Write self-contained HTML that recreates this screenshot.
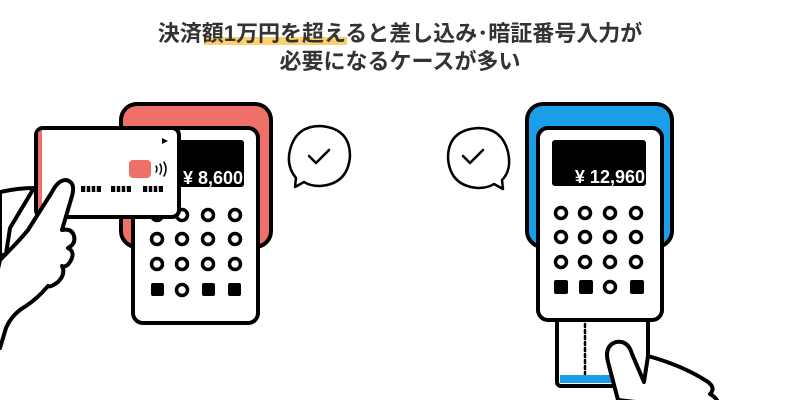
<!DOCTYPE html>
<html><head><meta charset="utf-8"><style>
html,body{margin:0;padding:0;background:#fff;width:800px;height:400px;overflow:hidden}
</style></head><body>
<svg width="800" height="400" viewBox="0 0 800 400" xmlns="http://www.w3.org/2000/svg">
<rect x="204" y="37" width="143" height="8" fill="#fcd06f"/>
<text x="400" y="41" text-anchor="middle" font-family="'Liberation Sans','Noto Sans CJK JP',sans-serif" font-size="22" font-weight="bold" fill="#333">決済額1万円を超えると差し込み･暗証番号入力が</text>
<text x="400" y="69" text-anchor="middle" font-family="'Liberation Sans','Noto Sans CJK JP',sans-serif" font-size="22" font-weight="bold" fill="#333">必要になるケースが多い</text>

<g stroke="#000" stroke-width="4" stroke-linejoin="round" stroke-linecap="round">
<!-- left terminal -->
<rect x="121" y="104" width="150" height="143" rx="16" fill="#ee7068"/>
<rect x="133" y="128" width="125" height="195" rx="10" fill="#fff"/>
<rect x="177" y="140" width="67" height="47" rx="3" fill="#000" stroke="none"/>
<g fill="#fff" stroke-width="3.5">
<circle cx="157" cy="215" r="5.5"/><circle cx="182" cy="215" r="5.5"/><circle cx="208" cy="215" r="5.5"/><circle cx="235" cy="215" r="5.5"/>
<circle cx="157" cy="239" r="5.5"/><circle cx="182" cy="239" r="5.5"/><circle cx="208" cy="239" r="5.5"/><circle cx="235" cy="239" r="5.5"/>
<circle cx="157" cy="264" r="5.5"/><circle cx="182" cy="264" r="5.5"/><circle cx="208" cy="264" r="5.5"/><circle cx="235" cy="264" r="5.5"/>
<circle cx="182" cy="290" r="5.5"/>
</g>
<rect x="151" y="283" width="13" height="13" rx="2" fill="#000" stroke="none"/>
<rect x="202" y="283" width="13" height="13" rx="2" fill="#000" stroke="none"/>
<rect x="228" y="283" width="13" height="13" rx="2" fill="#000" stroke="none"/>
<!-- card -->
<rect x="36" y="128" width="143" height="89" rx="7" fill="#fff"/>
<path d="M38 132 v82 h4 v-84 z" fill="#ee7068" stroke="none"/>
<rect x="129" y="160" width="22" height="18" rx="4" fill="#ee7068" stroke="none"/>
<path d="M162 138 l6 3 l-6 3 z" fill="#000" stroke="none"/>
<g fill="none" stroke-width="1.5"><path d="M156 166 q2 3 0 6"/><path d="M160 164 q3 5 0 10"/><path d="M164 162 q4 7 0 14"/></g>
<g stroke="none" fill="#000">
<rect x="81" y="186" width="20" height="6"/><rect x="111" y="186" width="20" height="6"/><rect x="143" y="186" width="20" height="6"/>
</g>
<g stroke="#fff" stroke-width="1.5"><path d="M86 185v8M91 185v8M96 185v8M116 185v8M121 185v8M126 185v8M148 185v8M153 185v8M158 185v8"/></g>
<!-- hand: index finger behind -->
<path d="M0 192 q18 -4 34 -4 l-24 40 l-4 26 l-6 2 z" fill="#fff"/>
<!-- hand main with thumb -->
<path d="M0 260 q20 -20 28 -30 l24 -38 q6 -12 14 -12 q10 2 6 16 l-10 34 q10 -2 12 6 q2 8 -6 12 q8 4 2 14 q-4 6 -8 4 q4 8 -4 16 q-8 6 -10 4 q-10 12 -22 20 q-14 8 -20 22 l-6 20 l-20 0 z" fill="#fff"/>
<!-- bubble -->
<path d="M296 178 q-10 -12 -6 -28 q6 -24 30 -24 q30 2 30 30 q-2 28 -30 30 q-10 0 -16 -4 l-9 5 z" fill="#fff" stroke-width="2.5"/>
<path d="M309 156 l7 7 l13 -13" fill="none" stroke-width="2.5"/>

<!-- right terminal -->
<rect x="527" y="104" width="145" height="143" rx="16" fill="#1a9ee8"/>
<rect x="557" y="318" width="91" height="68" rx="4" fill="#fff"/>
<path d="M560 375 h85 v8 h-85 z" fill="#1a9ee8" stroke="none"/>
<g stroke-width="2.5"><path d="M585 324 v50" stroke-dasharray="3 3"/></g>
<rect x="538" y="128" width="124" height="192" rx="10" fill="#fff"/>
<rect x="552" y="140" width="94" height="46" rx="3" fill="#000" stroke="none"/>
<g fill="#fff" stroke-width="3.5">
<circle cx="561" cy="213" r="5.5"/><circle cx="585" cy="213" r="5.5"/><circle cx="610" cy="213" r="5.5"/><circle cx="636" cy="213" r="5.5"/>
<circle cx="561" cy="237" r="5.5"/><circle cx="585" cy="237" r="5.5"/><circle cx="610" cy="237" r="5.5"/><circle cx="636" cy="237" r="5.5"/>
<circle cx="561" cy="262" r="5.5"/><circle cx="585" cy="262" r="5.5"/><circle cx="610" cy="262" r="5.5"/><circle cx="636" cy="262" r="5.5"/>
<circle cx="610" cy="287" r="5.5"/>
</g>
<rect x="554" y="280" width="14" height="14" rx="2" fill="#000" stroke="none"/>
<rect x="579" y="280" width="14" height="14" rx="2" fill="#000" stroke="none"/>
<rect x="630" y="280" width="14" height="14" rx="2" fill="#000" stroke="none"/>
<!-- finger/hand -->
<path d="M618 400 l-10 -38 q-4 -16 8 -20 q12 -2 16 12 l12 28 l4 -26 q36 10 60 26 q8 6 2 12 q8 4 10 14 l2 4 z" fill="#fff"/>
<!-- bubble -->
<path d="M502 180 q10 -10 6 -28 q-6 -24 -30 -24 q-30 2 -30 30 q2 28 30 30 q10 0 16 -4 l9 5 z" fill="#fff" stroke-width="2.5"/>
<path d="M463 156 l7 7 l13 -13" fill="none" stroke-width="2.5"/>
</g>
<text x="243" y="184" text-anchor="end" font-family="'Liberation Sans','Noto Sans CJK JP',sans-serif" font-size="18" font-weight="bold" fill="#fff">¥ 8,600</text>
<text x="645" y="183" text-anchor="end" font-family="'Liberation Sans','Noto Sans CJK JP',sans-serif" font-size="18" font-weight="bold" fill="#fff">¥ 12,960</text>
</svg>
</body></html>
